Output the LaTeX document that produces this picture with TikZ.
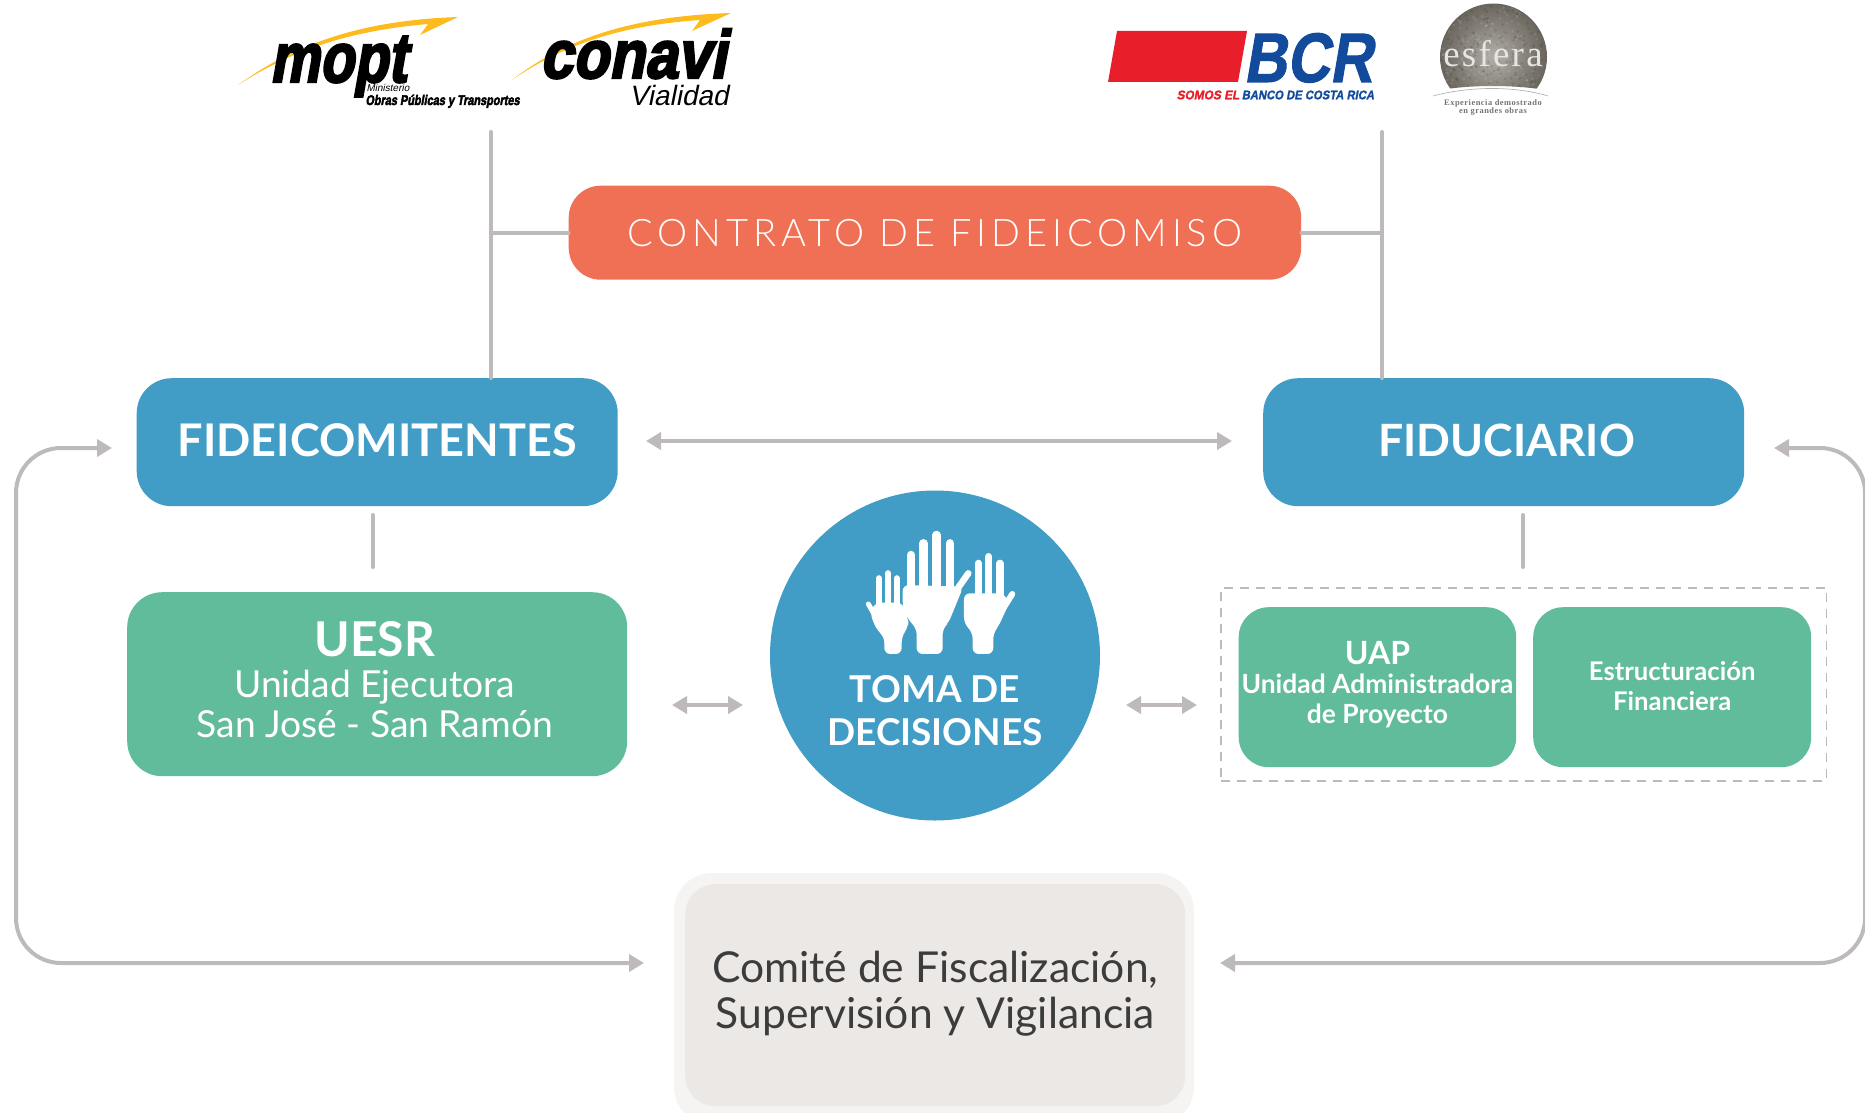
\documentclass[tikz,border=0pt]{standalone}
\usepackage{fontspec}
\usepackage{graphicx}
\setmainfont{Lato}
\newfontfamily\spaced[LetterSpace=13]{Lato Light}
\newfontfamily\logob[BoldFeatures={FakeBold=3.5,FakeSlant=0.22}]{Liberation Sans}
\newfontfamily\logoi[FakeSlant=0.2]{Liberation Sans}
\newfontfamily\bcrf[BoldFeatures={FakeBold=1.5,FakeSlant=0.2}]{Liberation Sans}
\newfontfamily\esf[LetterSpace=6]{Liberation Serif}
\usetikzlibrary{arrows.meta,calc}
\definecolor{blueb}{HTML}{419DC5}
\definecolor{greenb}{HTML}{61BC9C}
\definecolor{orangeb}{HTML}{F07055}
\definecolor{linec}{HTML}{BDB9BC}
\definecolor{yel}{HTML}{FDBB1E}
\definecolor{bcrblue}{HTML}{124B9B}
\definecolor{bcrred}{HTML}{E91E2B}
\definecolor{halo}{HTML}{F6F4F2}
\definecolor{comfill}{HTML}{ECE8E6}
\definecolor{comtxt}{HTML}{3C3C3C}
\definecolor{stonein}{HTML}{B3AFA6}
\definecolor{stoneout}{HTML}{69655D}
\newcommand{\fs}[1]{\fontsize{#1}{#1}\selectfont}
\newcommand{\rw}[1]{\rule[-10pt]{0pt}{#1pt}}
\newenvironment{lns}{\renewcommand{\arraystretch}{0}\begin{tabular}{@{}c@{}}}{\end{tabular}}
\tikzset{
  x=1pt,y=-1pt,
  box/.style={rounded corners=#1,text=white,align=center,inner sep=0pt,anchor=north west},
  conn/.style={draw=linec,line width=4pt,line cap=round},
  arr/.style={draw=linec,line width=4pt,{Triangle[length=15pt,width=17pt]}-{Triangle[length=15pt,width=17pt]}},
  logo/.style={inner sep=0pt,outer sep=0pt},
  handf/.style={draw=white,line cap=round},
}
\begin{document}
\begin{tikzpicture}
\useasboundingbox (0,0) rectangle (1865,1113);
% ---- logos
\fill[yel] (238,85) .. controls (300,40) and (370,20) .. (458,17) -- (420,35) -- (428,24) .. controls (360,30) and (300,45) .. (238,85) -- cycle;
\node[logo,anchor=base] (mopt) at (338,82) {\scalebox{.8}[1]{\logob\bfseries\fs{70}mopt}};
\node[logo,anchor=base] (mintxt) at (388,91.5) {\logoi\fs{10}Ministerio};
\node[logo,anchor=base] (obras) at (442.5,105) {\scalebox{.78}[1]{\logob\bfseries\fs{14}Obras Públicas y Transportes}};
\fill[yel] (512,80) .. controls (570,35) and (640,16) .. (731,13) -- (692,31) -- (700,20) .. controls (630,25) and (570,40) .. (512,80) -- cycle;
\node[logo,anchor=base] (conavi) at (633,78) {\scalebox{.865}[1]{\logob\bfseries\fs{68}conavi}};
\node[logo] (vial) at (679,95) {\logoi\fs{28}Vialidad};
\fill[bcrred] (1117,31) -- (1247,31) -- (1238,82) -- (1108,82) -- cycle;
\node[logo,text=bcrblue,anchor=base] (bcr) at (1308,82) {\scalebox{.85}[1]{\bcrf\bfseries\fs{70}BCR}};
\node[logo,text=bcrred] (somos) at (1208,95) {\scalebox{.95}[1]{\bcrf\bfseries\fs{12.5}SOMOS EL}};
\node[logo,text=bcrblue] (banco) at (1308,95) {\scalebox{.9}[1]{\bcrf\bfseries\fs{12.5}BANCO DE COSTA RICA}};
\begin{scope}
\clip (1430,0) -- (1556,0) -- (1556,92) .. controls (1520,84) and (1465,84) .. (1430,92) -- cycle;
\shade[inner color=stonein,outer color=stoneout] (1493.5,57) circle (53.5);
\clip (1493.5,57) circle (53.5);
\pgfmathsetseed{7}
\foreach \i in {1,...,170}{
  \pgfmathsetmacro\ang{rnd*360}\pgfmathsetmacro\rad{sqrt(rnd)*52}
  \fill[white,opacity=.1] ($(1493.5,57)+(\ang:\rad)$) circle (1.5);
  \pgfmathsetmacro\angb{rnd*360}\pgfmathsetmacro\radb{sqrt(rnd)*52}
  \fill[black,opacity=.1] ($(1493.5,57)+(\angb:\radb)$) circle (1.5);
}
\end{scope}
\draw[black!30,line width=.7pt] (1433,96) .. controls (1470,86) and (1515,86) .. (1548,96);
\node[logo,text=white!90!black] (esfera) at (1493,54) {\esf\fs{37}esfera};
\node[logo,text=black!55] (exp) at (1493,103) {\esf\bfseries\fs{8.4}Experiencia demostrado};
\node[logo,text=black!55] (grand) at (1493,112) {\esf\bfseries\fs{8.4}en grandes obras};
% ---- main nodes
\node[box=32pt,fill=orangeb,minimum width=732.5pt,minimum height=94pt] (contrato) at (568.5,185.5) {\raisebox{-4pt}{\spaced\fs{38}CONTRATO DE FIDEICOMISO}};
\node[box=35pt,fill=blueb,minimum width=481pt,minimum height=128pt] (fidei) at (136.5,378) {\raisebox{4.5pt}{\bfseries\fs{45}FIDEICOMITENTES}};
\node[box=35pt,fill=blueb,minimum width=481pt,minimum height=128pt] (fiduc) at (1263,378) {\hspace{6pt}\raisebox{4.5pt}{\bfseries\fs{44.5}FIDUCIARIO}};
\node[box=35pt,fill=greenb,minimum width=500pt,minimum height=184pt] (uesr) at (127,592) {\hspace*{-5pt}\begin{lns}\rw{45}\bfseries\fs{48}UESR\\\rw{41}\fs{37.2}Unidad Ejecutora\\\rw{40}\fs{37.2}San José - San Ramón\end{lns}};
\node[box=0pt,draw=linec,dash pattern=on 9pt off 7pt,line width=1.6pt,minimum width=605.5pt,minimum height=193pt] (dash) at (1220,587) {};
\node[box=30pt,fill=greenb,minimum width=277.5pt,minimum height=160pt] (uap) at (1238.5,607) {\begin{lns}\rw{33}\bfseries\fs{32}UAP\\\rw{28}\bfseries\fs{26.4}Unidad Administradora\\\rw{29}\bfseries\fs{26.4}de Proyecto\end{lns}};
\node[box=30pt,fill=greenb,minimum width=278pt,minimum height=160pt] (estr) at (1533,607) {\begin{lns}\rw{36}\bfseries\fs{25.7}Estructuración\\\rw{30}\bfseries\fs{25.7}Financiera\end{lns}};
\node[circle,fill=blueb,minimum size=330pt,inner sep=0pt] (toma) at (935,655.5) {};
\node[inner sep=0pt,align=center,text=white] (tomatxt) at (935,709) {\begin{lns}\rw{49}\bfseries\fs{37}TOMA DE\\\rw{43}\bfseries\fs{37}DECISIONES\end{lns}};
\fill[halo,rounded corners=38pt] (674,873) -- (1194,873) -- (1194,1125) -- (674,1125) -- cycle;
\node[box=30pt,fill=comfill,text=comtxt,minimum width=500pt,minimum height=222pt] (comite) at (685,884) {\begin{lns}\rw{33.5}\fs{42.6}Comité de Fiscalización,\\\rw{46}\fs{42.6}Supervisión y Vigilancia\end{lns}};
% ---- hands (scaled from 3x)
\begin{scope}[shift={(760,480)},x=.3333pt,y=-.3333pt]
  \fill[white,rounded corners=6pt] (345,368) -- (428,368) -- (445,420) -- (445,440) -- (425,470) -- (425,522) -- (373,522) -- (373,470) -- (350,450) -- (330,400) -- cycle;
  \foreach \xx/\yy in {357/295,384/280,410/295}{\draw[handf,line width=6.3pt] (\xx,\yy) -- (\xx,372);}
  \draw[handf,line width=5pt] (325,372) -- (355,425);
  \fill[white,rounded corners=6pt] (428,315) -- (610,320) -- (565,430) -- (548,445) -- (548,522) -- (470,522) -- (470,445) -- (445,420) -- (428,380) -- cycle;
  \foreach \xx/\yy in {453/225,490/190,530/165,570/190}{\draw[handf,line width=8.5pt] (\xx,\yy) -- (\xx,320);}
  \draw[handf,line width=6.5pt] (625,280) -- (590,330);
  \fill[white,rounded corners=6pt] (612,340) -- (735,340) -- (745,375) -- (715,440) -- (700,458) -- (700,522) -- (638,522) -- (638,458) -- (612,430) -- cycle;
  \foreach \xx/\yy in {655/250,686/230,720/250}{\draw[handf,line width=7.3pt] (\xx,\yy) -- (\xx,342);}
  \draw[handf,line width=6pt] (757,342) -- (730,385);
\end{scope}
% ---- connector ends
\coordinate (vl) at (491,132);
\coordinate (vr) at (1382,132);
\coordinate (sl) at (372.5,515);
\coordinate (sle) at (372.5,567);
\coordinate (sr) at (1523,515);
\coordinate (sre) at (1523,567);
\coordinate (a1) at (646,441);
\coordinate (a2) at (1232,441);
\coordinate (b1) at (672,705);
\coordinate (b2) at (743,705);
\coordinate (c1) at (1126,705);
\coordinate (c2) at (1197,705);
\coordinate (ll) at (112,448);
\coordinate (lb) at (644,963);
\coordinate (rl) at (1774,448);
\coordinate (rb) at (1220,963);
% ---- connectors
\draw[conn] (vl) -- (vl |- fidei.north);
\draw[conn] (vr) -- (vr |- fiduc.north);
\draw[conn] (contrato.west) -- (contrato.west -| vl);
\draw[conn] (contrato.east) -- (contrato.east -| vr);
\draw[conn] (sl) -- (sle);
\draw[conn] (sr) -- (sre);
\draw[arr] (a1) -- (a2);
\draw[arr] (b1) -- (b2);
\draw[arr] (c1) -- (c2);
\draw[arr,rounded corners=45pt] (ll) -| (16,963) -- (lb);
\draw[arr,rounded corners=45pt] (rl) -| (1865,963) -- (rb);
\end{tikzpicture}
\end{document}
